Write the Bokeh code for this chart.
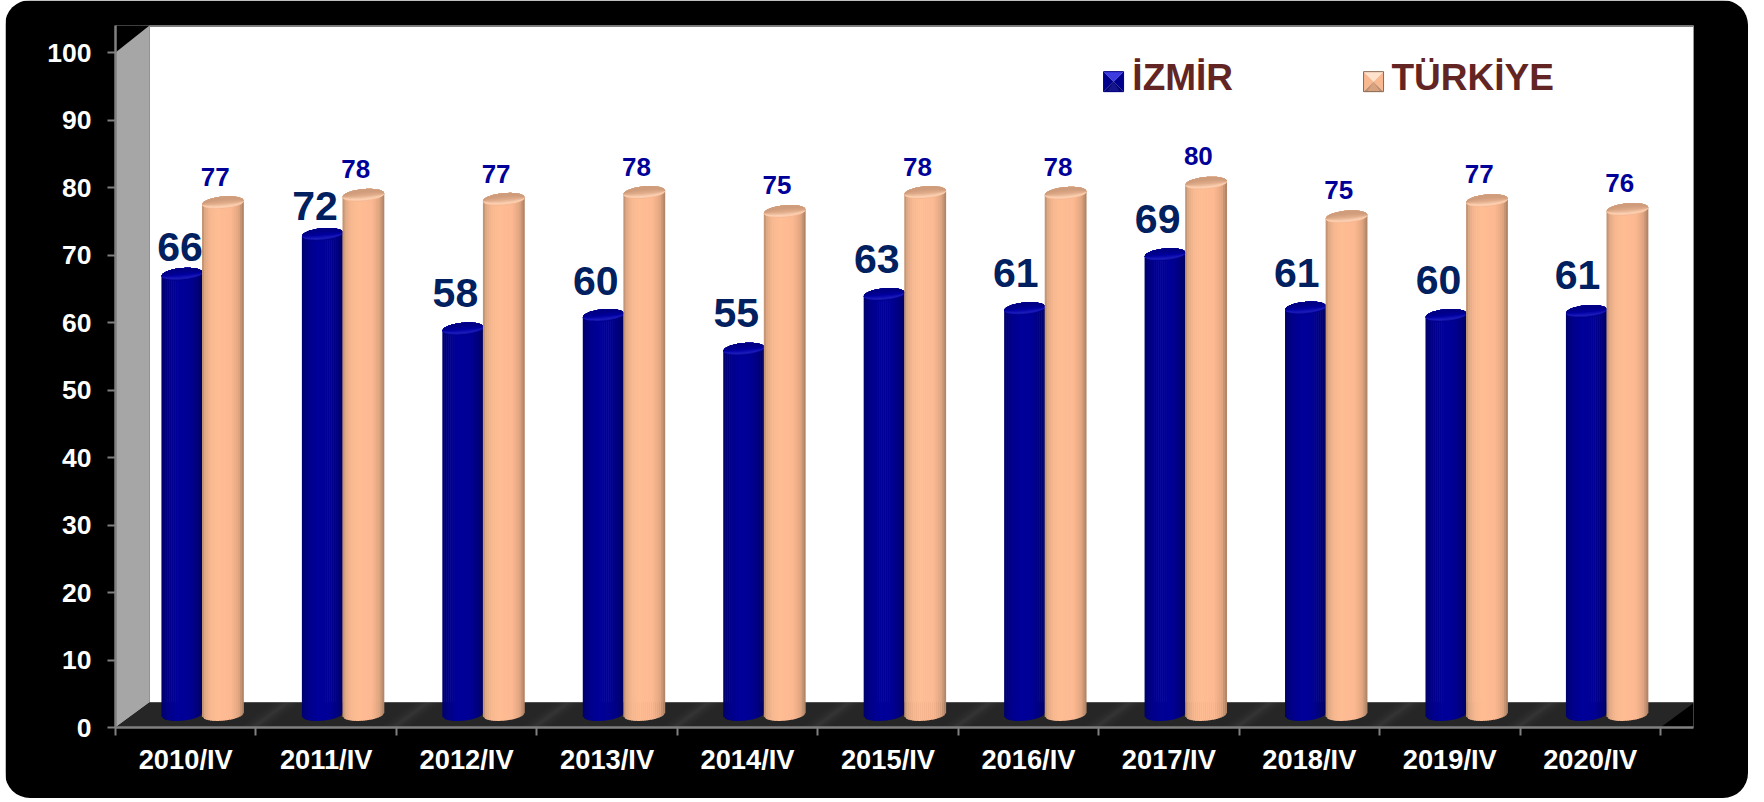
import math
from bokeh.core.properties import value
from bokeh.embed import file_html
from bokeh.models import FixedTicker, LinearAxis, Range1d
from bokeh.plotting import figure
from bokeh.resources import INLINE

# ---- data -------------------------------------------------------------
categories = ["2010/IV", "2011/IV", "2012/IV", "2013/IV", "2014/IV", "2015/IV",
              "2016/IV", "2017/IV", "2018/IV", "2019/IV", "2020/IV"]
izmir_values = [66.4, 72.3, 58.3, 60.3, 55.3, 63.4, 61.3, 69.3, 61.4, 60.3, 60.9]
turkiye_values = [77.0, 78.1, 77.5, 78.5, 75.7, 78.5, 78.4, 79.9, 74.9, 77.3, 76.0]
izmir_labels = ["66", "72", "58", "60", "55", "63", "61", "69", "61", "60", "61"]
turkiye_labels = ["77", "78", "77", "78", "75", "78", "78", "80", "75", "77", "76"]
y_ticks = list(range(0, 101, 10))

# label anchors (category units, value units)
izmir_label_x = [0.46, 1.42, 2.42, 3.42, 4.42, 5.42, 6.41, 7.42, 8.41, 9.42, 10.41]
izmir_label_y = [71.2, 77.3, 64.3, 66.2, 61.4, 69.4, 67.4, 75.3, 67.4, 66.3, 67.0]
turkiye_label_x = [0.71, 1.71, 2.71, 3.71, 4.71, 5.71, 6.71, 7.71, 8.71, 9.71, 10.71]
turkiye_label_y = [81.6, 82.7, 82.0, 83.1, 80.3, 83.1, 83.0, 84.6, 79.6, 82.0, 80.6]

# ---- geometry ----------------------------------------------------------
PX_X = 140.45   # px per category
PX_Y = 6.75     # px per value unit
W, H = 1743, 798
LEFT, TOP, RIGHT, BOTTOM = 110, 25, 55, 71
X_MAX = (W - LEFT - RIGHT) / PX_X
Y_MAX = (H - TOP - BOTTOM) / PX_Y
DEPTH_X = 34 / PX_X
DEPTH_Y_LOW = 25 / PX_Y
TOP_SHIFT = 0.75
BASE_Y = 1.93
RY = 6.2 / PX_Y
TILT = 1.8 / PX_Y
BLUE_C, BLUE_H = 0.473, 0.146
ORANGE_C, ORANGE_H = 0.765, 0.149
N_STRIPS = 21

p = figure(width=W, height=H, output_backend="svg", toolbar_location=None,
           x_range=Range1d(0, X_MAX), y_range=Range1d(0, Y_MAX),
           min_border_left=LEFT, min_border_right=RIGHT,
           min_border_top=TOP, min_border_bottom=BOTTOM,
           x_axis_type=None, y_axis_type=None,
           background_fill_color="black", border_fill_color="black",
           outline_line_color=None,
           styles={"margin-left": "5px", "margin-top": "0px",
                   "border-radius": "25px", "overflow": "hidden"})
p.grid.visible = False

yaxis = LinearAxis(ticker=FixedTicker(ticks=y_ticks))
xaxis = LinearAxis(
    ticker=FixedTicker(ticks=[i + 0.5 for i in range(len(categories))],
                       minor_ticks=list(range(len(categories) + 1))),
    major_label_overrides={i + 0.5: c for i, c in enumerate(categories)})
for ax in (xaxis, yaxis):
    ax.axis_line_color = "#808080"
    ax.axis_line_width = 2.5
    ax.major_label_text_color = "white"
    ax.major_label_text_font = "Liberation Sans"
    ax.major_label_text_font_style = "bold"
yaxis.major_tick_line_color = "#808080"
yaxis.major_tick_line_width = 2
yaxis.major_tick_in = 0
yaxis.major_tick_out = 8
yaxis.minor_tick_line_color = None
yaxis.major_label_text_font_size = "26.5px"
yaxis.major_label_standoff = 16
xaxis.major_tick_line_color = None
xaxis.minor_tick_line_color = "#808080"
xaxis.minor_tick_line_width = 2
xaxis.minor_tick_in = 0
xaxis.minor_tick_out = 8
xaxis.major_label_text_font_size = "27.3px"
xaxis.major_label_standoff = 8
p.add_layout(yaxis, "left")
p.add_layout(xaxis, "below")

# back wall, side wall, floor
n = len(categories)
wall_right = n + DEPTH_X
p.patch([DEPTH_X, wall_right, wall_right, DEPTH_X],
        [DEPTH_Y_LOW, DEPTH_Y_LOW, Y_MAX, Y_MAX], fill_color="white", line_color=None)
p.line([DEPTH_X, wall_right, wall_right], [Y_MAX - 0.08, Y_MAX - 0.08, DEPTH_Y_LOW],
       line_color="#808080", line_width=2)
p.patch([0, DEPTH_X, DEPTH_X, 0],
        [0, DEPTH_Y_LOW, Y_MAX, 100], fill_color="#a6a6a6", line_color=None)
p.patch([0, DEPTH_X, wall_right, n],
        [0, DEPTH_Y_LOW, DEPTH_Y_LOW, 0], fill_color="#262626", line_color=None)
for i in range(1, n):
    for half, alpha in ((0.10, 0.012), (0.07, 0.015), (0.04, 0.02), (0.02, 0.02)):
        p.patch([i - half - 0.02, i + half - 0.02,
                 i + half - 0.02 + DEPTH_X, i - half - 0.02 + DEPTH_X],
                [0, 0, DEPTH_Y_LOW, DEPTH_Y_LOW],
                fill_color="white", fill_alpha=alpha, line_color=None)


def hex2rgb(h):
    return tuple(int(h[k:k + 2], 16) for k in (1, 3, 5))


def ramp(stops, t):
    for (t0, c0), (t1, c1) in zip(stops, stops[1:]):
        if t <= t1:
            a = (t - t0) / (t1 - t0)
            r0, r1 = hex2rgb(c0), hex2rgb(c1)
            return "#%02x%02x%02x" % tuple(round(u + (v - u) * a) for u, v in zip(r0, r1))
    return stops[-1][1]


ORANGE_SIDE = [(-1, "#b98b6d"), (-0.85, "#e0aa85"), (-0.6, "#f8b890"), (-0.2, "#ffbd94"),
               (0.4, "#fcb891"), (0.75, "#e0a680"), (1, "#a87f64")]
BLUE_SIDE = [(-1, "#00006a"), (-0.7, "#000088"), (-0.2, "#00009a"), (0.3, "#000096"),
             (0.7, "#000080"), (1, "#000060")]
ORANGE_LID = [(0, "#f5b892"), (0.12, "#ffd5b8"), (0.4, "#e0ac8a"), (1, "#c08e70")]
BLUE_LID = [(0, "#00008c"), (0.12, "#2020c0"), (0.4, "#0000a0"), (1, "#000070")]


def cylinder(cx, half, val, side, lid):
    top_c = val + TOP_SHIFT
    ts = [-1 + 2 * k / N_STRIPS for k in range(N_STRIPS + 1)]
    xs, ys, cols = [], [], []
    for a, b in zip(ts, ts[1:]):
        b2 = min(1, b + 0.03)
        xa, xb = cx + half * a, cx + half * b2
        low_a = BASE_Y + TILT * a - RY * math.sqrt(max(0, 1 - a * a))
        low_b = BASE_Y + TILT * b2 - RY * math.sqrt(max(0, 1 - b2 * b2))
        xs.append([xa, xb, xb, xa])
        ys.append([low_a, low_b, top_c + TILT * b2, top_c + TILT * a])
        cols.append(ramp(side, (a + b) / 2))
    p.patches(xs, ys, fill_color=cols, line_color=None)
    # lid: tilted ellipse, shaded in nested slices
    fine = [-1 + 2 * k / 40 for k in range(41)]
    lxs, lys, lcols = [], [], []
    for f in [0, 0.08, 0.16, 0.24, 0.32, 0.42, 0.52, 0.62, 0.72]:
        upper = [top_c + TILT * t + RY * math.sqrt(1 - t * t) for t in fine]
        lower = [top_c + TILT * t - RY * math.sqrt(1 - t * t) for t in fine]
        lower = [l + f * (u - l) for l, u in zip(lower, upper)]
        lxs.append([cx + half * t for t in fine] + [cx + half * t for t in reversed(fine)])
        lys.append(upper + lower[::-1])
        lcols.append(ramp(lid, f))
    p.patches(lxs, lys, fill_color=lcols, line_color=None)


for i in range(n):
    cylinder(i + BLUE_C, BLUE_H, izmir_values[i], BLUE_SIDE, BLUE_LID)
    cylinder(i + ORANGE_C, ORANGE_H, turkiye_values[i], ORANGE_SIDE, ORANGE_LID)

p.text(izmir_label_x, izmir_label_y, text=izmir_labels, text_color="#002060",
       text_font=value("Liberation Sans"), text_font_style="bold", text_font_size="41px",
       text_align="center", text_baseline="middle")
p.text(turkiye_label_x, turkiye_label_y, text=turkiye_labels, text_color="#000099",
       text_font=value("Liberation Sans"), text_font_style="bold", text_font_size="26px",
       text_align="center", text_baseline="middle")


# legend: bevelled squares and their names
def bevel(x0, y0, w, h, bev, top, side, bottom, mid):
    """x0, y0 lower-left corner; four bevel triangles round a small centre"""
    x1, y1 = x0 + w, y0 + h
    xm, ym = x0 + w / 2, y0 + h / 2
    p.patches([[x0, x1, xm], [x0, xm, x0], [x1, xm, x1], [x0, x1, xm]],
              [[y1, y1, ym], [y0, ym, y1], [y0, ym, y1], [y0, y0, ym]],
              fill_color=[top, side, side, bottom], line_color=None)
    p.patch([x0 + w * 0.18, xm, x1 - w * 0.18], [y0, ym, y0], fill_color=mid, line_color=None)
    p.patch([x0, x1, x1, x0, x0], [y0, y0, y1, y1, y0], fill_color=None, line_color=bev, line_width=1)


LEG_W, LEG_H = 20 / PX_X, 20 / PX_Y
LEG_Y = 94.2
for name, lx, txt_x, cols in (
        ("İZMİR", 7.035, 7.24, ("#3c3ce0", "#00008c", "#000070", "#14148c", "#000080")),
        ("TÜRKİYE", 8.886, 9.085, ("#ffe2cc", "#f8b890", "#c08e70", "#d8a27e", "#8a6a54"))):
    top_c, side_c, bottom_c, mid_c, edge_c = cols
    bevel(lx, LEG_Y, LEG_W, LEG_H, edge_c, top_c, side_c, bottom_c, mid_c)
    p.text([txt_x], [LEG_Y + LEG_H / 2 + 0.55], text=[name], text_color="#632523",
           text_font=value("Liberation Sans"), text_font_style="bold", text_font_size="37px",
           text_align="left", text_baseline="middle")

open("out.html", "w").write(file_html(p, INLINE))
